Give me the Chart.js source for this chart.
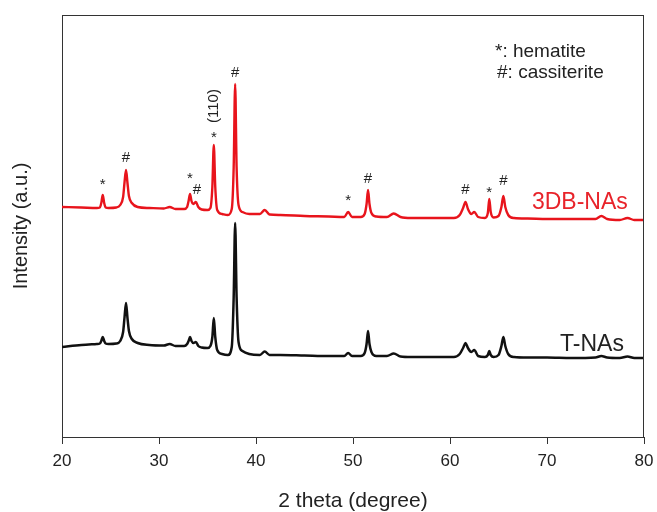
<!DOCTYPE html>
<html>
<head>
<meta charset="utf-8">
<script src="https://cdn.jsdelivr.net/npm/chart.js@4.4.0/dist/chart.umd.min.js"></script>
<style>
  html, body { margin: 0; padding: 0; background: #fff; }
  #wrap { width: 657px; height: 512px; }
</style>
</head>
<body>
<div id="wrap"><canvas id="xrdChart" width="657" height="512"></canvas></div>
<script>
// 2 theta grid (degree)
const twoTheta = [
  20.0, 22.0, 23.6, 23.9, 24.05, 24.2, 24.35, 24.5, 24.8, 25.6,
  26.0, 26.3, 26.45, 26.6, 26.75, 26.9, 27.2, 27.8, 29.0, 30.5,
  31.1, 31.7, 32.6, 32.9, 33.05, 33.2, 33.35, 33.55, 33.8, 34.05,
  34.4, 35.0, 35.3, 35.5, 35.65, 35.8, 36.0, 36.5, 37.1, 37.5,
  37.7, 37.85, 38.0, 38.2, 38.6, 39.3, 40.4, 40.9, 41.4, 42.5,
  45.0, 47.5, 49.1, 49.5, 49.9, 50.8, 51.2, 51.4, 51.55, 51.7,
  51.9, 52.4, 53.5, 54.2, 54.9, 56.0, 58.0, 60.4, 61.0, 61.35,
  61.6, 61.85, 62.2, 62.5, 62.9, 63.6, 63.9, 64.05, 64.2, 64.5,
  65.0, 65.3, 65.5, 65.7, 66.0, 66.6, 68.0, 70.0, 72.5, 75.0,
  75.6, 76.2, 77.5, 78.3, 79.0, 80.0
];

// 3DB-NAs (offset upward)
const intensity3DB = [
  230, 229.5, 229, 229.5, 234, 242, 234, 229.5, 229, 229.5,
  232, 240, 255, 267, 254, 241, 234, 230, 229, 228.5,
  230, 228, 228, 230, 236, 243, 236, 233, 235, 230,
  227.5, 227, 229, 250, 292, 250, 227, 223, 222, 228,
  270, 353, 270, 232, 225, 223, 223, 227, 222.5, 222,
  221, 220.5, 220, 225, 220, 220, 223, 233, 247, 233,
  224, 220.5, 220, 223.5, 220, 219, 219, 219, 222, 229,
  235, 228, 223, 225, 220, 219, 224, 238, 225, 219.5,
  221, 230, 241, 230, 222, 219, 218.5, 218, 218, 218,
  221, 218, 217, 219, 217, 217
];

// T-NAs
const intensityT = [
  90, 92, 93, 93.5, 96, 100, 96, 93.5, 93, 93.5,
  96, 105, 120, 134, 119, 106, 98, 94, 92, 91.5,
  93, 91, 91, 93, 96, 100, 96, 94, 95, 91,
  89.5, 89, 91, 100, 119, 100, 87, 83, 82, 90,
  140, 214, 140, 95, 86, 83, 82, 85.5, 82, 82,
  81.5, 81, 81, 84, 81, 81, 84, 93, 106, 93,
  85, 81, 81, 83.5, 80.5, 80, 80, 80, 83, 89,
  94, 89, 85, 87, 81, 80, 82, 86, 82, 80,
  82, 91, 100, 91, 83, 80, 79.5, 79.5, 79, 79.5,
  81, 79.5, 79, 80.5, 79, 79
];

const xTicks = [20, 30, 40, 50, 60, 70, 80];

// phase marks above the 3DB-NAs peaks
const peakX = [24.2, 26.6, 33.2, 33.9, 35.65, 37.85, 49.5, 51.55, 61.6, 64.05, 65.5];
const peakY = [256, 280, 262, 248, 303, 365, 240, 259, 248, 248, 257];
const peakMark = ['*', '#', '*', '#', '*', '#', '*', '#', '#', '*', '#'];

const FONT = '"Liberation Sans", Arial, sans-serif';

function toPoints(ys) {
  return twoTheta.map((t, i) => ({ x: t, y: ys[i] }));
}

const decorations = {
  id: 'decorations',
  afterDraw(chart) {
    const { ctx, chartArea: a, scales: { x, y } } = chart;
    ctx.save();
    // top and right frame
    ctx.strokeStyle = '#333';
    ctx.lineWidth = 1;
    ctx.beginPath();
    ctx.moveTo(a.left, a.top + 0.5);
    ctx.lineTo(a.right, a.top + 0.5);
    ctx.moveTo(a.right - 0.5, a.top);
    ctx.lineTo(a.right - 0.5, a.bottom);
    ctx.stroke();

    // peak marks
    ctx.fillStyle = '#222';
    ctx.font = '15px ' + FONT;
    ctx.textAlign = 'center';
    ctx.textBaseline = 'alphabetic';
    peakMark.forEach((m, i) => {
      const px = x.getPixelForValue(peakX[i]);
      const py = y.getPixelForValue(peakY[i]);
      ctx.fillText(m, px, py + (m === '*' ? 8 : 5));
    });

    // (110) label, vertical
    ctx.save();
    ctx.translate(x.getPixelForValue(35.67), y.getPixelForValue(331));
    ctx.rotate(-Math.PI / 2);
    ctx.textBaseline = 'middle';
    ctx.fillText('(110)', 0, 0);
    ctx.restore();

    // legend for symbols
    ctx.textAlign = 'left';
    ctx.textBaseline = 'middle';
    ctx.font = '19px ' + FONT;
    ctx.fillText('*: hematite', x.getPixelForValue(64.64), y.getPixelForValue(385));
    ctx.fillText('#: cassiterite', x.getPixelForValue(64.85), y.getPixelForValue(364));

    // sample names
    ctx.font = '23px ' + FONT;
    ctx.fillStyle = '#e8232a';
    ctx.fillText('3DB-NAs', x.getPixelForValue(68.45), y.getPixelForValue(234));
    ctx.fillStyle = '#222';
    ctx.fillText('T-NAs', x.getPixelForValue(71.34), y.getPixelForValue(92));
    ctx.restore();
  }
};

const ctx = document.getElementById('xrdChart').getContext('2d');
const xrdChart = new Chart(ctx, {
  type: 'line',
  data: {
    datasets: [{
      label: '3DB-NAs',
      data: toPoints(intensity3DB),
      borderColor: '#e8141c',
      borderWidth: 2.4,
      pointRadius: 0,
      cubicInterpolationMode: 'monotone'
    }, {
      label: 'T-NAs',
      data: toPoints(intensityT),
      borderColor: '#111',
      borderWidth: 2.5,
      pointRadius: 0,
      cubicInterpolationMode: 'monotone'
    }]
  },
  options: {
    responsive: false,
    animation: false,
    layout: { autoPadding: false, padding: { top: 15, right: 13, left: 0, bottom: 0 } },
    plugins: {
      legend: { display: false },
      tooltip: { enabled: false }
    },
    scales: {
      x: {
        type: 'linear',
        min: 20,
        max: 80,
        afterBuildTicks: s => { s.ticks = xTicks.map(v => ({ value: v })); },
        afterFit: s => { s.height = 75; s.paddingLeft = 0; s.paddingRight = 0; },
        grid: { display: true, drawOnChartArea: false, tickLength: 7, color: '#333' },
        border: { display: true, color: '#333', width: 1 },
        ticks: { color: '#222', padding: 7, maxRotation: 0, font: { family: FONT, size: 17 } },
        title: {
          display: true,
          text: '2 theta (degree)',
          color: '#222',
          font: { family: FONT, size: 21 },
          padding: { top: 0, bottom: -2 }
        }
      },
      y: {
        min: 0,
        max: 422,
        afterFit: s => { s.width = 62; },
        grid: { display: false },
        border: { display: true, color: '#333', width: 1 },
        ticks: { display: false },
        title: {
          display: true,
          text: 'Intensity (a.u.)',
          color: '#222',
          font: { family: FONT, size: 20 },
          padding: { top: 9, bottom: 0 }
        }
      }
    }
  },
  plugins: [decorations]
});
</script>
</body>
</html>
